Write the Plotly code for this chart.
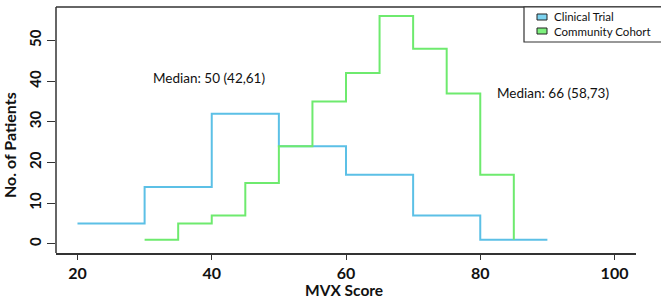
import plotly.graph_objects as go

# Clinical Trial: bin edges (width 10) and counts
ct_x = [20, 30, 40, 50, 60, 70, 80, 90]
ct_y = [5, 14, 32, 24, 17, 7, 1, 1]
# Community Cohort: bin edges (width 5) and counts
cc_x = [30, 35, 40, 45, 50, 55, 60, 65, 70, 75, 80, 85]
cc_y = [1, 5, 7, 15, 24, 35, 42, 56, 48, 37, 17, 1]

x_ticks = [20, 40, 60, 80, 100]
y_ticks = [0, 10, 20, 30, 40, 50]
legend_names = ["Clinical Trial", "Community Cohort"]
annot_ct = "Median: 50 (42,61)"
annot_cc = "Median: 66 (58,73)"
x_title = "MVX Score"
y_title = "No. of Patients"

BLUE = "#5cc0e6"
GREEN = "#6eea6e"
BLUE_FILL = "#7dd3f0"
GREEN_FILL = "#7ef07e"
AXC = "#333333"
FONT = "Lato"

fig = go.Figure()
fig.add_trace(go.Scatter(x=ct_x, y=ct_y, mode="lines", line_shape="hv",
                         line=dict(color=BLUE, width=2), name=legend_names[0], showlegend=False))
fig.add_trace(go.Scatter(x=cc_x, y=cc_y, mode="lines", line_shape="hv",
                         line=dict(color=GREEN, width=2), name=legend_names[1], showlegend=False))

W, H = 661, 301
L, R, T, B = 56, 25, 7, 48
pw = W - L - R
ph = H - T - B

def px_x(p):
    return (p - L) / pw

def px_y(p):
    return 1 - (p - T) / ph

shapes = [
    dict(type="line", xref="paper", yref="paper", x0=0, x1=0, y0=0, y1=1,
         line=dict(color=AXC, width=1.5)),
    dict(type="line", xref="paper", yref="paper", x0=0, x1=px_x(W + 5), y0=1, y1=1,
         line=dict(color=AXC, width=1.5)),
    dict(type="rect", xref="paper", yref="paper", x0=px_x(524), x1=px_x(W + 5),
         y0=px_y(42), y1=1, line=dict(color=AXC, width=1.2), fillcolor="white"),
    dict(type="rect", xref="paper", yref="paper", x0=px_x(537), x1=px_x(547),
         y0=px_y(20), y1=px_y(14), line=dict(color="#222", width=1), fillcolor=BLUE_FILL),
    dict(type="rect", xref="paper", yref="paper", x0=px_x(537), x1=px_x(547),
         y0=px_y(34), y1=px_y(28), line=dict(color="#222", width=1), fillcolor=GREEN_FILL),
]

annotations = [
    dict(text=legend_names[0], xref="paper", yref="paper", x=px_x(553), y=px_y(16.5),
         xanchor="left", yanchor="middle", showarrow=False, borderpad=0,
         font=dict(family=FONT, size=11.5, color="#111")),
    dict(text=legend_names[1], xref="paper", yref="paper", x=px_x(553), y=px_y(32),
         xanchor="left", yanchor="middle", showarrow=False, borderpad=0,
         font=dict(family=FONT, size=11.5, color="#111")),
    dict(text=annot_ct, xref="paper", yref="paper", x=px_x(209), y=px_y(78),
         xanchor="center", yanchor="middle", showarrow=False,
         font=dict(family=FONT, size=13.5, color="#111")),
    dict(text=annot_cc, xref="paper", yref="paper", x=px_x(553), y=px_y(93),
         xanchor="center", yanchor="middle", showarrow=False,
         font=dict(family=FONT, size=13.5, color="#111")),
    dict(text="<b>" + x_title + "</b>", xref="paper", yref="paper", x=px_x(344), y=px_y(290),
         xanchor="center", yanchor="middle", showarrow=False,
         font=dict(family=FONT, size=15.5, color="#111")),
    dict(text="<b>" + y_title + "</b>", xref="paper", yref="paper", x=px_x(9), y=px_y(145),
         xanchor="center", yanchor="middle", showarrow=False, textangle=-90,
         font=dict(family=FONT, size=16, color="#111")),
]

fig.update_layout(
    width=W, height=H,
    margin=dict(l=L, r=R, t=T, b=B),
    paper_bgcolor="white", plot_bgcolor="white",
    shapes=shapes, annotations=annotations,
    xaxis=dict(range=[16.8, 103.2], tickvals=x_ticks, showgrid=False, zeroline=False,
               showline=True, linecolor=AXC, linewidth=1.5,
               ticks="outside", ticklen=5, tickcolor=AXC, tickwidth=1.2,
               tickfont=dict(family=FONT, size=16, color="#111", weight="bold")),
    yaxis=dict(range=[-2.24, 58.24], tickvals=y_ticks, showgrid=False, zeroline=False,
               showline=False, tickangle=-90,
               ticks="outside", ticklen=8, tickcolor=AXC, tickwidth=1.2,
               tickfont=dict(family=FONT, size=15, color="#111", weight="bold")),
)

fig.write_html("out.html")
